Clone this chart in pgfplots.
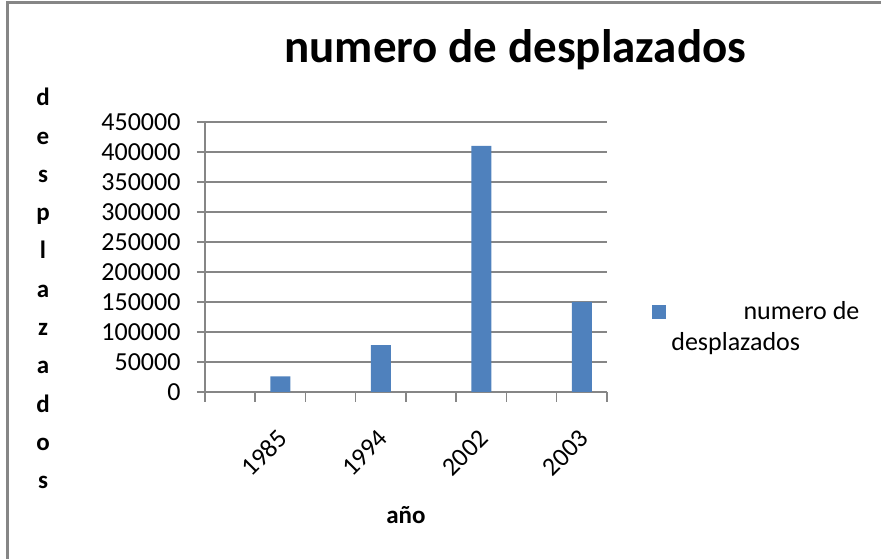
\documentclass[border=0pt]{standalone}
\usepackage{fontspec}
\setmainfont{Carlito}
\usepackage{pgfplots}
\pgfplotsset{compat=1.18}
\definecolor{barblue}{RGB}{79,129,189}
\definecolor{gridgray}{RGB}{134,134,134}

\begin{document}
\begin{tikzpicture}
\path[use as bounding box] (0,0) rectangle (881pt,559pt);
% marco del grafico
\draw[gridgray, line width=3pt] (7pt,0) -- (7pt,556pt) -- (881pt,556pt);
\begin{axis}[
    at={(205pt,167pt)}, anchor=south west,
    scale only axis, width=402pt, height=270pt,
    xmin=0.5, xmax=8.5,
    ymin=0, ymax=450000,
    axis x line=bottom, axis y line=left,
    axis line style={gridgray, line width=1.5pt, -},
    tick align=outside,
    ytick={0,50000,...,450000},
    scaled y ticks=false,
    yticklabel style={/pgf/number format/fixed, /pgf/number format/1000 sep={},
        /pgf/number format/assume math mode=true, xshift=-13pt,
        font=\fontsize{26}{30}\selectfont},
    major tick length=8pt,
    ytick style={gridgray, line width=1.2pt},
    ymajorgrids,
    grid style={gridgray, line width=1.2pt},
    xtick={2,4,6,8},
    xticklabels={1985,1994,2002,2003},
    major x tick style={draw=none},
    minor xtick={0.5,1.5,...,8.5},
    minor tick length=10pt,
    minor x tick style={gridgray, line width=1.5pt},
    xticklabel style={rotate=45, anchor=east, xshift=-19pt, yshift=-26pt,
        font=\fontsize{26}{30}\selectfont},
    xlabel={\textbf{año}},
    xlabel style={at={(axis description cs:0.5,-0.455)}, anchor=center,
        font=\fontsize{25}{30}\selectfont},
    ylabel={d\\e\\s\\p\\l\\a\\z\\a\\d\\o\\s},
    ylabel style={rotate=-90, align=center, at={(axis description cs:-0.403,0.383)}, anchor=center,
        font=\fontsize{25}{38.3}\selectfont\bfseries},
    title={numero de desplazados},
    title style={at={(axis description cs:0.772,1.198)}, anchor=base,
        font=\fontsize{47}{56}\selectfont\bfseries},
    legend style={draw=none, fill=none, at={(axis description cs:1.105,0.24)}, anchor=west,
        font=\fontsize{26}{31}\selectfont, nodes={align=left}},
    legend image code/.code={\fill[barblue] (0pt,8.5pt) rectangle (14pt,22.5pt);},
]
\addplot[ybar, bar width=20pt, fill=barblue, draw=none] coordinates {
    (2,26000) (4,78000) (6,410000) (8,150000)
};
\addlegendentry{\makebox[191pt][r]{numero de}\\\hspace*{3pt}desplazados}
\end{axis}
\end{tikzpicture}
\end{document}
